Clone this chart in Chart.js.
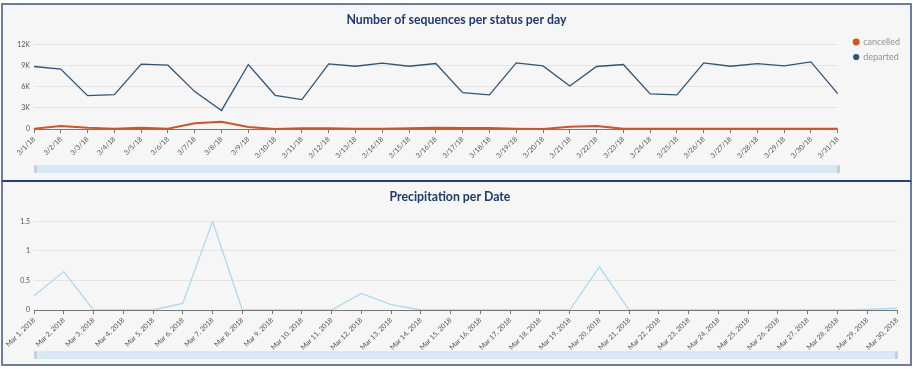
<!DOCTYPE html>
<html lang="en">
<head>
<meta charset="UTF-8">
<title>Sequences and precipitation</title>
<script src="https://cdn.jsdelivr.net/npm/chart.js"></script>
<style>
  html, body { margin: 0; padding: 0; background: #fff; }
  body { width: 913px; height: 369px; position: relative; overflow: hidden; font-family: Lato, "Open Sans", sans-serif; }
  .painel { position: absolute; box-sizing: border-box; background: #f6f6f6; border: 2px solid #6b7ca6; }
  #painel1 { left: 1px; top: 3px; width: 911px; height: 179px; border-bottom-color: #233f7e; }
  #painel2 { left: 1px; top: 182px; width: 911px; height: 184px; border-top: none; }
  .grafico { position: absolute; }
  #g1 { left: 3px; top: 5px; width: 907px; height: 174px; }
  #g2 { left: 3px; top: 182px; width: 907px; height: 182px; }
  .barra { position: absolute; height: 8px; background: #d8e9f6; border-radius: 2px; }
  .barra::before, .barra::after { content: ""; position: absolute; top: 0; width: 3px; height: 8px; background: #c3cfdc; border-radius: 2px; }
  .barra::before { left: 0; }
  .barra::after { right: 0; }
  #barra1 { left: 34px; top: 165px; width: 806px; }
  #barra2 { left: 34px; top: 351px; width: 864px; }
</style>
</head>
<body>
  <div class="painel" id="painel1"></div>
  <div class="painel" id="painel2"></div>
  <div class="grafico" id="g1"><canvas id="chart1"></canvas></div>
  <div class="grafico" id="g2"><canvas id="chart2"></canvas></div>
  <div class="barra" id="barra1"></div>
  <div class="barra" id="barra2"></div>

<script>
  // dados do grafico de cima
  const dias = ['3/1/18', '3/2/18', '3/3/18', '3/4/18', '3/5/18', '3/6/18', '3/7/18', '3/8/18', '3/9/18', '3/10/18',
    '3/11/18', '3/12/18', '3/13/18', '3/14/18', '3/15/18', '3/16/18', '3/17/18', '3/18/18', '3/19/18', '3/20/18',
    '3/21/18', '3/22/18', '3/23/18', '3/24/18', '3/25/18', '3/26/18', '3/27/18', '3/28/18', '3/29/18', '3/30/18', '3/31/18'];
  const cancelled = [50, 420, 190, 50, 190, 50, 800, 1040, 280, 0, 90, 90, 20, 20, 100, 180, 140, 140, 50, 0,
    330, 420, 20, 20, 20, 20, 20, 20, 20, 20, 20];
  const departed = [8860, 8490, 4730, 4880, 9190, 9050, 5300, 2630, 9140, 4780, 4170, 9240, 8900, 9330, 8900, 9280,
    5160, 4830, 9380, 8950, 6090, 8860, 9140, 4970, 4830, 9380, 8900, 9280, 8950, 9520, 5020];
  const ticksSequencias = [0, 3000, 6000, 9000, 12000];

  // dados do grafico de baixo
  const datas = ['Mar 1, 2018', 'Mar 2, 2018', 'Mar 3, 2018', 'Mar 4, 2018', 'Mar 5, 2018', 'Mar 6, 2018', 'Mar 7, 2018',
    'Mar 8, 2018', 'Mar 9, 2018', 'Mar 10, 2018', 'Mar 11, 2018', 'Mar 12, 2018', 'Mar 13, 2018', 'Mar 14, 2018',
    'Mar 15, 2018', 'Mar 16, 2018', 'Mar 17, 2018', 'Mar 18, 2018', 'Mar 19, 2018', 'Mar 20, 2018', 'Mar 21, 2018',
    'Mar 22, 2018', 'Mar 23, 2018', 'Mar 24, 2018', 'Mar 25, 2018', 'Mar 26, 2018', 'Mar 27, 2018', 'Mar 28, 2018',
    'Mar 29, 2018', 'Mar 30, 2018'];
  const precipitacao = [0.24, 0.65, 0, 0, 0, 0.11, 1.5, 0, 0, 0, 0, 0.28, 0.09, 0, 0, 0, 0, 0, 0, 0.73,
    0, 0, 0, 0, 0, 0, 0, 0, 0.01, 0.03];
  const ticksPrecip = [0, 0.5, 1, 1.5];

  Chart.defaults.font.family = 'Lato, "Open Sans", sans-serif';
  Chart.defaults.animation = false;

  function eixoX(altura) {
    return {
      offset: false,
      ticks: { color: '#555', font: { size: 7 }, minRotation: 45, maxRotation: 45, autoSkip: false, padding: 2 },
      grid: { drawOnChartArea: false, drawTicks: true, tickLength: 4, color: '#777' },
      border: { display: true, color: '#777', width: 1 },
      afterFit: s => { s.height = altura; }
    };
  }

  function eixoY(valores, fmt) {
    return {
      min: valores[0],
      max: valores[valores.length - 1],
      afterBuildTicks: s => { s.ticks = valores.map(v => ({ value: v })); },
      ticks: { color: '#555', font: { size: 7 }, padding: 4, callback: fmt },
      grid: { color: '#e4e4e4', drawTicks: false },
      border: { display: false },
      afterFit: s => { s.width = 31; }
    };
  }

  function titulo(texto) {
    return {
      display: true,
      text: texto,
      color: '#1e3a6e',
      font: { size: 12.3, weight: 'bold' },
      padding: { top: 8, bottom: 16.6 }
    };
  }

  new Chart(document.getElementById('chart1'), {
    type: 'line',
    data: {
      labels: dias,
      datasets: [
        { label: 'cancelled', data: cancelled, borderColor: '#d6531f', backgroundColor: '#d6531f', borderWidth: 2, pointRadius: 0, tension: 0 },
        { label: 'departed', data: departed, borderColor: '#2f5578', backgroundColor: '#2f5578', borderWidth: 1.3, pointRadius: 0, tension: 0 }
      ]
    },
    options: {
      responsive: true,
      maintainAspectRatio: false,
      layout: { padding: { left: 0, right: 0, bottom: 10, top: 0 } },
      plugins: {
        title: titulo('Number of sequences per status per day'),
        legend: {
          position: 'right',
          align: 'start',
          // titulo vazio so para descer os itens da legenda
          title: { display: true, text: '', font: { size: 1 }, padding: { top: 0, bottom: 25.3 } },
          labels: { usePointStyle: true, pointStyle: 'circle', boxWidth: 5, boxHeight: 3.5, color: '#929292', font: { size: 9 }, padding: 6 }
        },
        tooltip: { enabled: false }
      },
      scales: {
        x: eixoX(40),
        y: eixoY(ticksSequencias, v => v === 0 ? '0' : (v / 1000) + 'K'),
        // espaco entre o grafico e a legenda
        espaco: {
          position: 'right',
          display: true,
          grid: { display: false },
          ticks: { display: false },
          border: { display: false },
          afterFit: s => { s.width = 10; }
        }
      }
    }
  });

  new Chart(document.getElementById('chart2'), {
    type: 'line',
    data: {
      labels: datas,
      datasets: [
        { label: 'Precipitation', data: precipitacao, borderColor: '#a9daf1', backgroundColor: '#a9daf1', borderWidth: 1.3, pointRadius: 0, tension: 0 }
      ]
    },
    options: {
      responsive: true,
      maintainAspectRatio: false,
      layout: { padding: { left: 0, right: 13, bottom: 10, top: 0 } },
      plugins: {
        title: titulo('Precipitation per Date'),
        legend: { display: false },
        tooltip: { enabled: false }
      },
      scales: {
        x: eixoX(44),
        y: eixoY(ticksPrecip, v => String(v))
      }
    }
  });
</script>
</body>
</html>
